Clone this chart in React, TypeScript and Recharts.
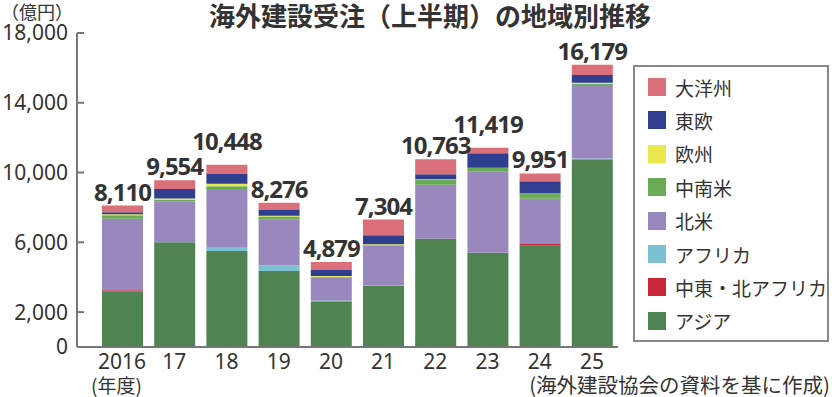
import { Bar, BarChart, XAxis, YAxis } from "recharts";

const YEARS = ["2016", "17", "18", "19", "20", "21", "22", "23", "24", "25"];
const TOTALS = [8110, 9554, 10448, 8276, 4879, 7304, 10763, 11419, 9951, 16179];

// stacked bottom -> top
const ASIA = [3200, 6000, 5500, 4350, 2620, 3500, 6200, 5400, 5800, 10760];
const MENA = [50, 0, 0, 0, 0, 0, 0, 0, 110, 0];
const AFRICA = [0, 0, 190, 330, 50, 50, 0, 0, 0, 50];
const N_AMERICA = [4100, 2330, 3370, 2650, 1320, 2240, 3100, 4670, 2590, 4210];
const LATAM = [200, 110, 150, 150, 30, 40, 290, 200, 270, 70];
const EUROPE = [60, 70, 150, 50, 50, 60, 20, 0, 30, 60];
const E_EUROPE = [120, 550, 560, 330, 350, 520, 300, 830, 700, 440];
const OCEANIA = [380, 494, 528, 416, 459, 894, 853, 319, 451, 589];

const Y_TICKS = [0, 2000, 6000, 10000, 14000, 18000];

const SERIES = [
  { key: "asia", name: "アジア", color: "#4f8352", values: ASIA },
  { key: "mena", name: "中東・北アフリカ", color: "#c9283a", values: MENA },
  { key: "africa", name: "アフリカ", color: "#7cc0d2", values: AFRICA },
  { key: "nam", name: "北米", color: "#9888bd", values: N_AMERICA },
  { key: "latam", name: "中南米", color: "#6aab55", values: LATAM },
  { key: "eu", name: "欧州", color: "#e9e84c", values: EUROPE },
  { key: "eeu", name: "東欧", color: "#2f3e8e", values: E_EUROPE },
  { key: "oce", name: "大洋州", color: "#d9707a", values: OCEANIA },
];

const data = YEARS.map((y, i) => {
  const row: Record<string, number | string> = { year: y };
  for (const s of SERIES) row[s.key] = s.values[i];
  return row;
});

const TEXT = "#333";
const FONT = "'Noto Sans', 'Noto Sans CJK JP', sans-serif";
const JP = "'Noto Sans CJK JP', sans-serif";

// 18 and 23 labels sit higher in the original so they don't collide with neighbours
const RAISED = new Set(["18", "23"]);

function TotalLabel(props: any) {
  const { x, y, width, index } = props;
  const lift = RAISED.has(YEARS[index]) ? 15 : 5;
  return (
    <text
      x={x + width / 2}
      y={y - lift}
      textAnchor="middle"
      fontSize={24}
      fontWeight="bold"
      letterSpacing={-1}
      fill={TEXT}
    >
      {TOTALS[index].toLocaleString("en-US")}
    </text>
  );
}

export default function App() {
  return (
    <div style={{ position: "relative", width: 832, height: 397, fontFamily: FONT, color: TEXT }}>
      <style>{`body{margin:0}`}</style>
      <BarChart
        width={832}
        height={397}
        data={data}
        margin={{ top: 33, right: 214, left: 0, bottom: 0 }}
        style={{ fontFamily: FONT }}
      >
        <XAxis
          dataKey="year"
          height={50}
          padding={{ left: 19, right: 0 }}
          tickLine={false}
          axisLine={{ stroke: "#777", strokeWidth: 2 }}
          tick={{ fontSize: 21, fill: TEXT }}
          tickMargin={1}
          interval={0}
        />
        <YAxis
          width={77}
          domain={[0, 18000]}
          ticks={Y_TICKS}
          interval={0}
          tickSize={-7}
          tickMargin={16}
          tickLine={{ stroke: "#777", strokeWidth: 2 }}
          axisLine={{ stroke: "#777", strokeWidth: 2 }}
          tick={{ fontSize: 21, fill: TEXT }}
          tickFormatter={(v: number) => v.toLocaleString("en-US")}
        />
        {SERIES.map((s, i) => (
          <Bar
            key={s.key}
            dataKey={s.key}
            name={s.name}
            stackId="a"
            fill={s.color}
            barSize={41}
            isAnimationActive={false}
            label={i === SERIES.length - 1 ? <TotalLabel /> : undefined}
          />
        ))}
      </BarChart>

      <div
        style={{
          position: "absolute",
          left: 0,
          width: 860,
          top: 2,
          textAlign: "center",
          fontFamily: JP,
          fontSize: 26,
          fontWeight: "bold",
          lineHeight: "25px",
        }}
      >
        海外建設受注（上半期）の地域別推移
      </div>
      <div style={{ position: "absolute", left: 1, top: 2, fontFamily: JP, fontSize: 18, lineHeight: "19px" }}>
        （億円）
      </div>
      <div style={{ position: "absolute", left: 91, top: 375, fontFamily: JP, fontSize: 19, lineHeight: "20px" }}>
        (年度)
      </div>
      <div
        style={{
          position: "absolute",
          right: 2,
          top: 375,
          fontFamily: JP,
          fontSize: 20.5,
          lineHeight: "19px",
          whiteSpace: "nowrap",
        }}
      >
        (海外建設協会の資料を基に作成)
      </div>

      <div
        style={{
          position: "absolute",
          left: 633,
          top: 65,
          width: 196,
          height: 277,
          border: "2px solid #888",
          boxSizing: "border-box",
          background: "#fff",
        }}
      >
        {[...SERIES].reverse().map((s, i) => (
          <div
            key={s.key}
            style={{
              position: "absolute",
              left: 13,
              top: 10 + i * 33.4,
              display: "flex",
              alignItems: "center",
              height: 20,
            }}
          >
            <span style={{ width: 18, height: 18, background: s.color, display: "inline-block" }} />
            <span style={{ marginLeft: 9, fontFamily: JP, fontSize: 19, whiteSpace: "nowrap" }}>{s.name}</span>
          </div>
        ))}
      </div>
    </div>
  );
}
